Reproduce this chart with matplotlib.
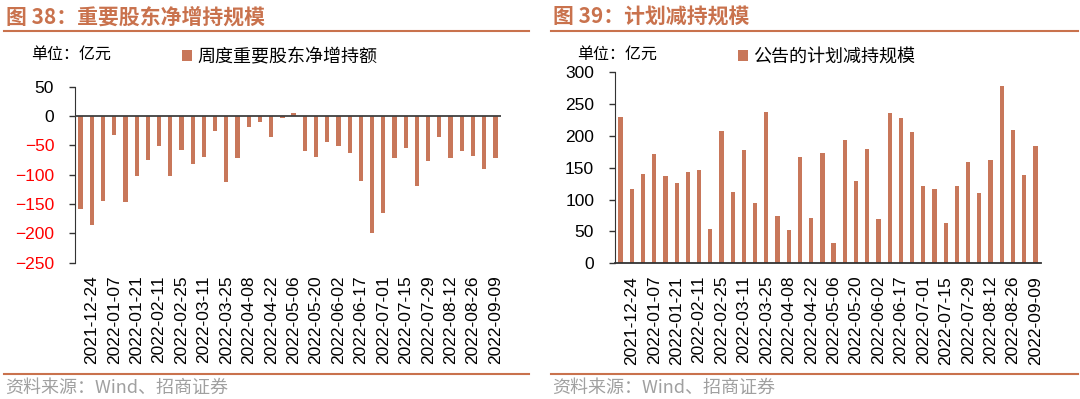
import matplotlib
matplotlib.use("Agg")
import matplotlib.pyplot as plt
from matplotlib.lines import Line2D

# weekly categories (first week has no label on the axis)
weeks = [
    "2021-12-17", "2021-12-24", "2021-12-31", "2022-01-07", "2022-01-14",
    "2022-01-21", "2022-01-28", "2022-02-11", "2022-02-18", "2022-02-25",
    "2022-03-04", "2022-03-11", "2022-03-18", "2022-03-25", "2022-04-01",
    "2022-04-08", "2022-04-15", "2022-04-22", "2022-04-29", "2022-05-06",
    "2022-05-13", "2022-05-20", "2022-05-27", "2022-06-02", "2022-06-10",
    "2022-06-17", "2022-06-24", "2022-07-01", "2022-07-08", "2022-07-15",
    "2022-07-22", "2022-07-29", "2022-08-05", "2022-08-12", "2022-08-19",
    "2022-08-26", "2022-09-02", "2022-09-09",
]

# 周度重要股东净增持额 (亿元)
net_increase = [
    -159, -185, -144, -32, -147, -103, -75, -51, -102, -58,
    -82, -70, -26, -112, -72, -19, -10, -35, -3, 6,
    -59, -69, -45, -51, -63, -111, -200, -165, -71, -55,
    -119, -76, -36, -72, -60, -68, -91, -72,
]

# 公告的计划减持规模 (亿元)
planned_reduction = [
    230, 117, 140, 171, 137, 126, 143, 146, 54, 208,
    112, 178, 94, 237, 74, 52, 167, 71, 173, 32,
    194, 130, 179, 69, 236, 229, 206, 121, 116, 64,
    122, 159, 110, 162, 279, 209, 139, 184,
]

BAR = "#C8775A"
ACCENT = "#C9724D"
CJK = ["Noto Sans CJK SC", "DejaVu Sans"]
plt.rcParams["font.family"] = ["Liberation Sans", "DejaVu Sans"]

W, H = 1080, 399
fig = plt.figure(figsize=(W / 100, H / 100), dpi=100)


def fx(px):
    return px / W


def fy(py):
    return 1 - py / H


def panel(left, top, right, bottom):
    return fig.add_axes([fx(left), fy(bottom), (right - left) / W, (bottom - top) / H])


def draw_bars(ax, values, label):
    n = len(values)
    bars = ax.bar(range(n), values, width=0.38, color=BAR, label=label, zorder=2)
    ax.set_xlim(-0.5, n - 0.5)
    ax.set_xticks(range(1, n, 2))
    ax.set_xticklabels(weeks[1::2], rotation=90, fontsize=12.5)
    ax.tick_params(axis="x", length=0, pad=9)
    ax.tick_params(axis="y", length=4, width=1, color="#333333", pad=11, labelsize=12.5)
    for s in ("top", "right"):
        ax.spines[s].set_visible(False)
    ax.spines["left"].set_color("#333333")
    ax.spines["bottom"].set_color("#333333")
    return bars


# left panel
ax1 = panel(75, 86.7, 501, 262.7)
draw_bars(ax1, net_increase, "周度重要股东净增持额")
ax1.set_ylim(-250, 50)
ax1.set_yticks(range(-250, 51, 50))
ax1.spines["bottom"].set_visible(False)
ax1.axhline(0, color="#404040", lw=1.3, zorder=3)
for t, v in zip(ax1.get_yticklabels(), range(-250, 51, 50)):
    t.set_color("#FF0000" if v < 0 else "#000000")

# right panel
ax2 = panel(615, 72.3, 1041, 263.3)
draw_bars(ax2, planned_reduction, "公告的计划减持规模")
ax2.set_ylim(0, 300)
ax2.set_yticks(range(0, 301, 50))
ax2.spines["bottom"].set_linewidth(1.3)

# legends
for ax, x in ((ax1, 182), (ax2, 738)):
    ax.legend(loc="center left", bbox_to_anchor=(fx(x), fy(57)),
              bbox_transform=fig.transFigure, frameon=False,
              borderpad=0, borderaxespad=0, handlelength=0.55,
              handleheight=0.55, handletextpad=0.3,
              prop={"family": CJK, "size": 13})

# titles, units, sources and rules
for x0, x1, title in ((4, 529, "图 38：重要股东净增持规模"), (551, 1078, "图 39：计划减持规模")):
    fig.text(fx(x0 + 2), fy(17), title, fontsize=15, fontweight="bold",
             color=ACCENT, va="center", family=CJK)
    fig.add_artist(Line2D([fx(x0), fx(x1)], [fy(31), fy(31)],
                          transform=fig.transFigure, color=ACCENT, lw=1.5))
    fig.add_artist(Line2D([fx(x0), fx(x1)], [fy(373.5), fy(373.5)],
                          transform=fig.transFigure, color=ACCENT, lw=1.5))
    fig.text(fx(x0 + 1), fy(388), "资料来源：Wind、招商证券", fontsize=13,
             color="#A0A0A0", va="center", family=CJK)

fig.text(fx(31), fy(54), "单位：亿元", fontsize=11.5, va="center", family=CJK)
fig.text(fx(577), fy(54), "单位：亿元", fontsize=11.5, va="center", family=CJK)

fig.savefig("out.png", dpi=100)
plt.close(fig)
